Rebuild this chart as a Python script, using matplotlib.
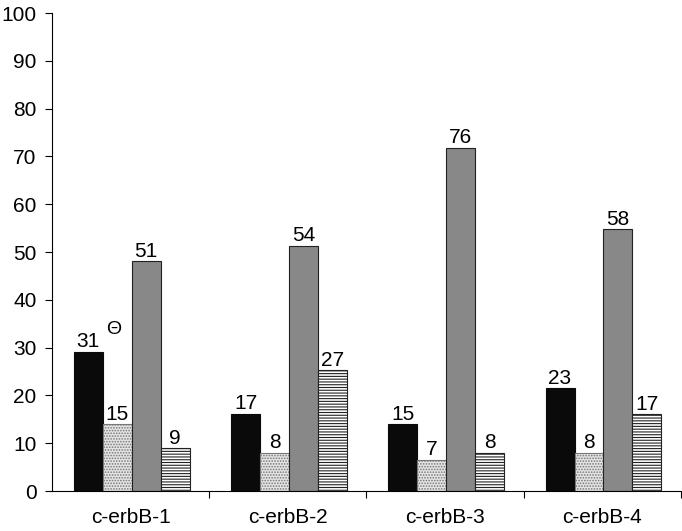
import matplotlib
matplotlib.use("Agg")
import matplotlib.pyplot as plt
import numpy as np

plt.rcParams['font.family'] = ['Liberation Sans', 'DejaVu Sans']
plt.rcParams['hatch.linewidth'] = 0.8

genes = ["c-erbB-1", "c-erbB-2", "c-erbB-3", "c-erbB-4"]

# bar heights as drawn, and the printed labels above them
black_h = [29.1, 16.2, 14.0, 21.5]
dotted_h = [14.0, 8.0, 6.5, 8.0]
gray_h = [48.1, 51.3, 71.8, 54.8]
lined_h = [9.0, 25.3, 8.0, 16.1]

black_lbl = [31, 17, 15, 23]
dotted_lbl = [15, 8, 7, 8]
gray_lbl = [51, 54, 76, 58]
lined_lbl = [9, 27, 8, 17]

fig = plt.figure(figsize=(6.82, 5.31), dpi=100)
ax = fig.add_axes([0.0762, 0.0753, 0.9223, 0.9002])

x = np.arange(len(genes))
w = 0.184
offsets = np.array([-1.5, -0.5, 0.5, 1.5]) * w + 0.007

series = [
    (black_h, black_lbl, dict(color="#0a0a0a", edgecolor="#0a0a0a")),
    (dotted_h, dotted_lbl, dict(color="#e4e4e4", edgecolor="#777777", hatch="......")),
    (gray_h, gray_lbl, dict(color="#888888", edgecolor="#222222")),
    (lined_h, lined_lbl, dict(color="white", edgecolor="#222222", hatch="------")),
]

for (h, lbl, st), off in zip(series, offsets):
    bars = ax.bar(x + off, h, w, linewidth=0.8, **st)
    for b, v in zip(bars, lbl):
        ax.text(b.get_x() + b.get_width() / 2, b.get_height() + 0.1, str(v),
                ha="center", va="bottom", fontsize=15)

# small symbol next to the first label
ax.text(x[0] + offsets[0] + 0.163, 33.7, "Θ", ha="center",
        va="center", fontsize=14)

ax.set_xlim(-0.5, len(genes) - 0.5)
ax.set_ylim(0, 100)
ax.set_yticks(np.arange(0, 101, 10))
ax.tick_params(axis="y", labelsize=15, length=5, width=0.8, direction="out", pad=6)

ax.set_xticks(np.arange(0.5, len(genes), 1.0))
ax.set_xticklabels([])
ax.tick_params(axis="x", length=5, width=0.8, direction="out")
ax.set_xticks(x, minor=True)
ax.set_xticklabels(genes, minor=True, fontsize=15)
ax.tick_params(axis="x", which="minor", length=0, pad=12)

for s in ["top", "right"]:
    ax.spines[s].set_visible(False)
ax.spines["left"].set_linewidth(0.8)
ax.spines["bottom"].set_linewidth(0.8)

fig.savefig("out.png", dpi=100)
